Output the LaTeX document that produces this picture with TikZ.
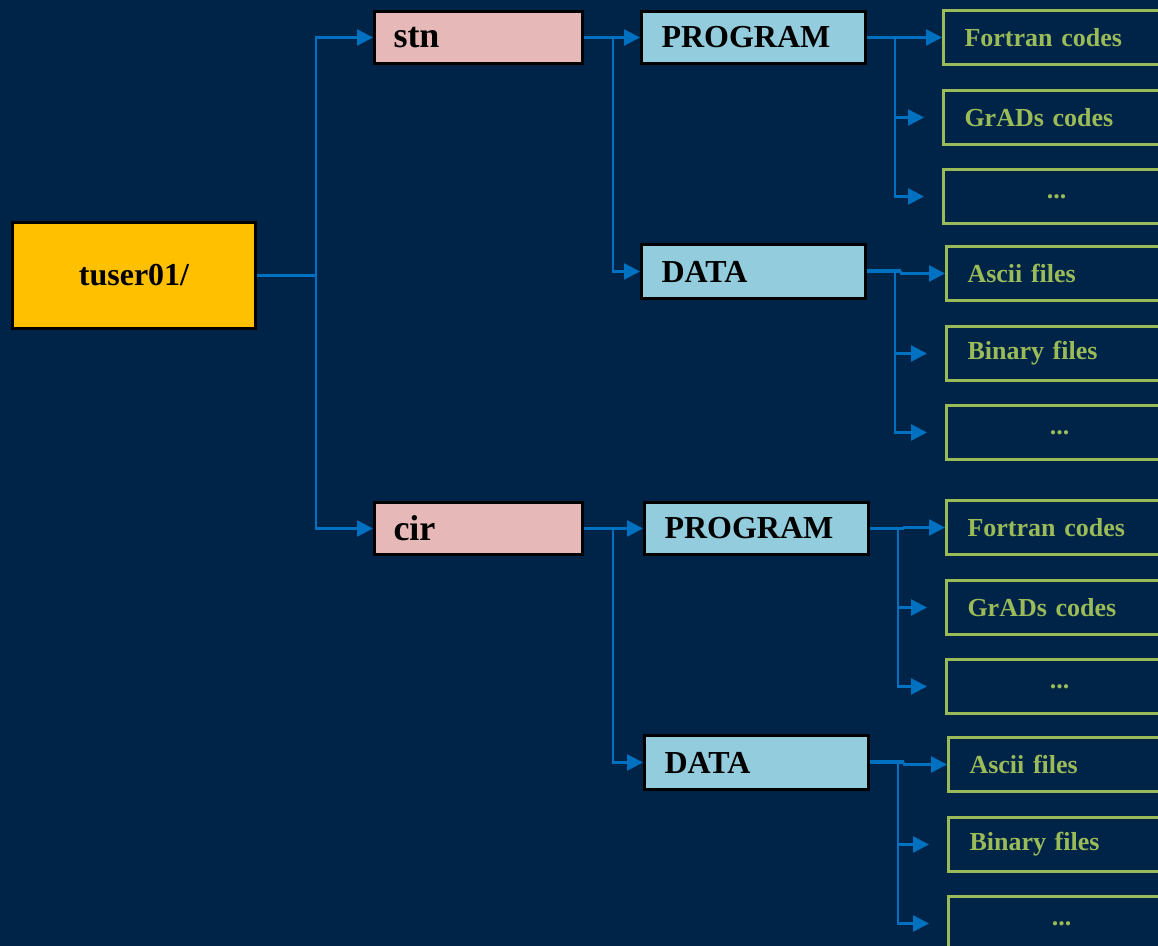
\documentclass[tikz,border=0pt]{standalone}
\usepackage{fontspec}
\setmainfont{Liberation Serif}
\usetikzlibrary{arrows.meta}

\definecolor{night}{HTML}{002447}
\definecolor{gold}{HTML}{FFC000}
\definecolor{rose}{HTML}{E6B9B8}
\definecolor{sky}{HTML}{93CDDD}
\definecolor{leafgreen}{HTML}{9BBB59}
\definecolor{wireblue}{HTML}{0070C0}

\tikzset{
	folder/.style={draw=black,line width=1.5pt,anchor=north west,align=left,font=\bfseries},
	topdir/.style={folder,fill=rose,minimum height=26pt,text width=85pt,inner xsep=9.5pt,font=\bfseries\fontsize{18}{20}\selectfont},
	subdir/.style={folder,fill=sky,minimum height=26pt,text width=92pt,inner xsep=10pt,font=\bfseries\fontsize{16}{18}\selectfont},
	leaf/.style={draw=leafgreen,line width=1.5pt,anchor=north west,minimum height=27pt,text width=92pt,inner xsep=10.5pt,align=left,text=leafgreen,font=\bfseries\fontsize{13}{15}\selectfont},
	wire/.style={draw=wireblue,line width=1.2pt},
	feed/.style={wire,-{Triangle[length=8pt,width=8pt]}}
}

\begin{document}
\begin{tikzpicture}[x=0.5pt,y=-0.5pt]
	\fill[night] (0,0) rectangle (1158,946);
	\useasboundingbox (0,0) rectangle (1158,946);
	\clip (0,0) rectangle (1158,946);

	%FOLDERS
	\node[folder,fill=gold,minimum width=121.5pt,minimum height=53pt,align=center,font=\bfseries\fontsize{16}{18}\selectfont] (root) at (11,221) {tuser01/};
	\node[topdir] (stn) at (373,10) {stn};
	\node[topdir] (cir) at (373,501) {cir};
	\node[subdir] (stnprog) at (640,10) {PROGRAM};
	\node[subdir,minimum height=27pt] (stndata) at (640,243) {DATA};
	\node[subdir] (cirprog) at (643,501) {PROGRAM};
	\node[subdir,minimum height=27pt] (cirdata) at (643,734) {DATA};

	\coordinate (rootb) at ([xshift=29.5pt]root.east);
	\draw[wire] (root.east)--(rootb);
	\draw[feed] (rootb) |- (stn.west);
	\draw[feed] (rootb) |- (cir.west);

	\foreach \t in {stn,cir}{
	\coordinate (\t b) at ([xshift=14.5pt]\t.east);
	\draw[feed] (\t.east)--(\t prog.west);
	\draw[feed] (\t b) |- (\t data.west);
	}

	%FILES
	\foreach \p/\w/\x/\y/\a/\b in {stnprog/1.2pt/942/9/Fortran codes/GrADs codes,stndata/2pt/945/245/Ascii files/Binary files,cirprog/1.2pt/945/499/Fortran codes/GrADs codes,cirdata/2pt/947/736/Ascii files/Binary files}{
	\node[leaf] (\p1) at (\x,\y) {\a};
	\node[leaf] (\p2) at (\x,\y+80) {\b};
	\node[leaf,align=center] (\p3) at (\x,\y+159) {...};
	\coordinate (\p b) at ([xshift=14pt]\p.east);
	\coordinate (\p j) at ([xshift=17pt]\p.east);
	\draw[wire,line width=\w] (\p.east)--(\p j);
	\draw[feed] (\p j) |- (\p1.west);
	\draw[feed,shorten >=9pt] (\p b) |- (\p2.west);
	\draw[feed,shorten >=9pt] (\p b) |- (\p3.west);
	}
\end{tikzpicture}
\end{document}
